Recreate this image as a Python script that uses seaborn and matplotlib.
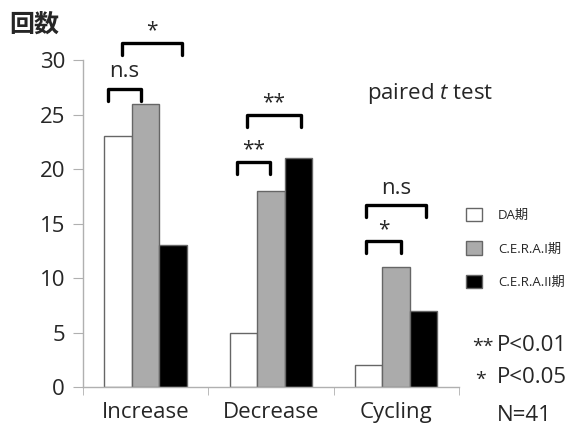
import matplotlib
matplotlib.use("Agg")
import matplotlib.pyplot as plt
import seaborn as sns
import pandas as pd

# data
categories = ["Increase", "Decrease", "Cycling"]
periods = ["DA期", "C.E.R.A.I期", "C.E.R.A.II期"]
da_counts = [23, 5, 2]
cera1_counts = [26, 18, 11]
cera2_counts = [13, 21, 7]
y_ticks = [0, 5, 10, 15, 20, 25, 30]

# significance brackets: (category index, left offset, right offset, top value, label)
brackets = [
    (0, -0.30, -0.04, 27.4, "n.s"),
    (0, -0.19, 0.29, 31.6, "*"),
    (1, -0.27, -0.01, 20.7, "**"),
    (1, -0.19, 0.24, 25.0, "**"),
    (2, -0.24, 0.04, 13.4, "*"),
    (2, -0.24, 0.24, 16.7, "n.s"),
]

sns.set_style("white")
plt.rcParams["font.family"] = ["Open Sans", "Noto Sans CJK JP", "DejaVu Sans"]
plt.rcParams["mathtext.fontset"] = "custom"
plt.rcParams["mathtext.it"] = "Open Sans:italic"
plt.rcParams["mathtext.rm"] = "Open Sans"

df = pd.DataFrame({
    "category": categories * 3,
    "period": [p for p in periods for _ in categories],
    "count": da_counts + cera1_counts + cera2_counts,
})

fig = plt.figure(figsize=(5.77, 4.33), dpi=100)
ax = fig.add_axes([0.144, 0.106, 0.651, 0.755])

palette = {periods[0]: "white", periods[1]: "#ababab", periods[2]: "black"}
sns.barplot(data=df, x="category", y="count", hue="period", hue_order=periods,
            palette=palette, width=0.66, gap=0, edgecolor="#666666", linewidth=1.0,
            saturation=1, ax=ax)

ax.set_xlim(-0.5, 2.5)
ax.set_ylim(0, 30)
ax.set_yticks(y_ticks)
ax.set_xlabel("")
ax.set_ylabel("")
for s in ["top", "right"]:
    ax.spines[s].set_visible(False)
for s in ["left", "bottom"]:
    ax.spines[s].set_color("#b0b0b0")
    ax.spines[s].set_linewidth(1.0)
ax.tick_params(axis="y", left=True, length=7, color="#b0b0b0", labelsize=16, pad=6)
ax.tick_params(axis="x", which="major", length=0, labelsize=16, pad=11)
ax.set_xticks([-0.5, 0.5, 1.5, 2.5], minor=True)
ax.tick_params(axis="x", which="minor", bottom=True, length=6, color="#b0b0b0")

# brackets
for ci, lo, hi, top, label in brackets:
    x1, x2 = ci + lo, ci + hi
    ax.plot([x1, x1, x2, x2], [top - 1.1, top, top, top - 1.1], color="black",
            lw=2.4, solid_joinstyle="round", solid_capstyle="round", clip_on=False)
    if label == "n.s":
        ax.text((x1 + x2) / 2, top + 0.6, label, ha="center", va="bottom", fontsize=16)
    else:
        ax.text((x1 + x2) / 2, top + 0.1, label, ha="center", va="bottom", fontsize=15)

sns.move_legend(ax, "upper left", bbox_to_anchor=(0.797, 0.535),
                bbox_transform=fig.transFigure, frameon=False, title=None,
                fontsize=9.5, handlelength=1.2, handleheight=1.2,
                labelspacing=1.45, handletextpad=1.2, borderpad=0)

fig.text(0.016, 0.942, "回数", fontsize=18, fontweight="bold", va="center", ha="left")
fig.text(0.636, 0.785, r"paired $\it{t}$ test", fontsize=16, va="center", ha="left")
fig.text(0.819, 0.198, "**", fontsize=14, va="center", ha="left")
fig.text(0.862, 0.203, "P<0.01", fontsize=16, va="center", ha="left")
fig.text(0.823, 0.123, "*", fontsize=14, va="center", ha="left")
fig.text(0.862, 0.128, "P<0.05", fontsize=16, va="center", ha="left")
fig.text(0.862, 0.041, "N=41", fontsize=16, va="center", ha="left")

fig.savefig("out.png", dpi=100)
